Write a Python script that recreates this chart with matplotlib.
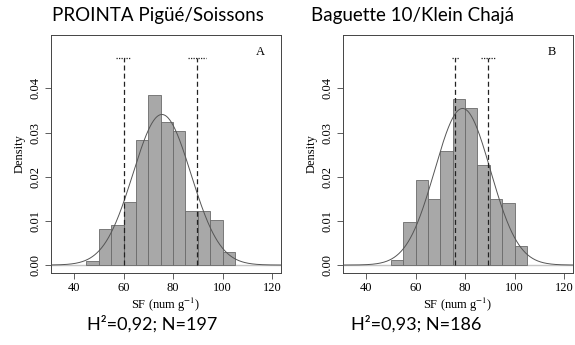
import numpy as np
import matplotlib
matplotlib.use("Agg")
import matplotlib.pyplot as plt

# ---- data ----
bin_edges_A = [45, 50, 55, 60, 65, 70, 75, 80, 85, 90, 95, 100, 105]
density_A = [0.00102, 0.00812, 0.00914, 0.01421, 0.02843, 0.03858, 0.03249,
             0.03046, 0.01218, 0.01218, 0.01015, 0.00305]
mean_A, sd_A = 75.5, 11.7
vlines_A = [60, 89.8]
ci_A = [(57.1, 62.5), (86.1, 93.4)]

bin_edges_B = [50, 55, 60, 65, 70, 75, 80, 85, 90, 95, 100, 105]
density_B = [0.00108, 0.00968, 0.01935, 0.01505, 0.02581, 0.03763, 0.03548,
             0.02258, 0.01505, 0.01398, 0.00430]
mean_B, sd_B = 79.0, 11.25
vlines_B = [75.9, 89.3]
ci_B = [(74.6, 77.7), (86.4, 92.6)]

titles = ["PROINTA Pigüé/Soissons", "Baguette 10/Klein Chajá"]
letters = ["A", "B"]
notes = ["H²=0,92; N=197", "H²=0,93; N=186"]
xticks = [40, 60, 80, 100, 120]
yticks = [0.00, 0.01, 0.02, 0.03, 0.04]

plt.rcParams['mathtext.fontset'] = 'stix'
serif = 'Liberation Serif'

fig = plt.figure(figsize=(5.75, 3.45), dpi=100)
panels = [
    (0.0887, bin_edges_A, density_A, mean_A, sd_A, vlines_A, ci_A),
    (0.5965, bin_edges_B, density_B, mean_B, sd_B, vlines_B, ci_B),
]
title_x = [0.274, 0.717]
note_x = [0.265, 0.723]
for i, (left, edges, dens, mu, sd, vls, cis) in enumerate(panels):
    ax = fig.add_axes([left, 0.2087, 0.40, 0.6899])
    ax.set_xlim(30.7, 123.6)
    ax.set_ylim(-0.0018, 0.0521)
    ax.axhline(0, color='#c4c4c4', lw=1.0, zorder=1)
    edges = np.array(edges)
    ax.bar(edges[:-1], dens, width=np.diff(edges), align='edge',
           color='#a8a8a8', edgecolor='#6a6a6a', linewidth=0.6, zorder=2)
    xs = np.linspace(30.7, 123.6, 400)
    ys = np.exp(-0.5 * ((xs - mu) / sd) ** 2) / (sd * np.sqrt(2 * np.pi))
    ax.plot(xs, ys, color='#555555', lw=0.7, zorder=3)
    for v, (a, b) in zip(vls, cis):
        ax.plot([v, v], [0, 0.047], color='#222222', lw=0.9,
                linestyle=(0, (4, 2.5)), zorder=4)
        ax.plot([a, b], [0.047, 0.047], color='#222222', lw=0.9,
                linestyle=(0, (1, 1)), zorder=4)
    ax.set_xticks(xticks)
    ax.set_yticks(yticks)
    ax.set_xticklabels([str(t) for t in xticks], fontfamily=serif, fontsize=9)
    ax.set_yticklabels(["%.2f" % t for t in yticks], fontfamily=serif,
                       fontsize=9, rotation=90, va='center')
    ax.tick_params(length=4.5, width=0.6, color='#444444', pad=2)
    for s in ax.spines.values():
        s.set_linewidth(0.7)
        s.set_color('#444444')
    ax.set_xlabel("SF (num g$^{-1}$)", fontfamily=serif, fontsize=9, labelpad=1)
    ax.set_ylabel("Density", fontfamily=serif, fontsize=9, labelpad=3)
    ax.text(0.91, 0.93, letters[i], transform=ax.transAxes,
            fontfamily=serif, fontsize=9, ha='center', va='center')
    fig.text(title_x[i], 0.939, titles[i], fontfamily='Lato', fontsize=13.5,
             ha='center', va='baseline')
    fig.text(note_x[i], 0.046, notes[i], fontfamily='Lato', fontsize=13,
             ha='center', va='baseline')

fig.savefig("out.png", dpi=100)
